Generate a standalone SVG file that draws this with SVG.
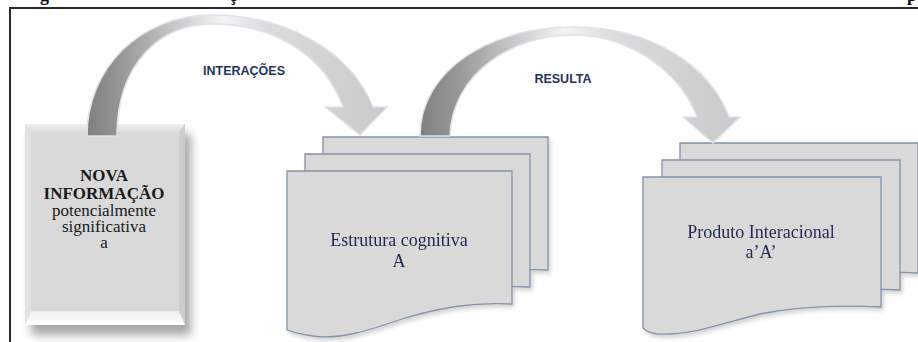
<svg xmlns="http://www.w3.org/2000/svg" width="918" height="342" viewBox="0 0 918 342">
  <style>
    .frame { fill: none; stroke: #2a2a2a; stroke-width: 2; }
    .title { font-family: "Liberation Serif", "Times New Roman", serif; font-weight: bold; font-size: 18px; fill: #111; }
    .doc { fill: #d9d9d9; stroke: #8293ab; stroke-width: 1.3; }
    .doctext { font-family: "Liberation Serif", "Times New Roman", serif; font-size: 18px; fill: #1f2a4f; text-anchor: middle; }
    .novatext { font-family: "Liberation Serif", "Times New Roman", serif; font-size: 17px; fill: #1a1a1a; text-anchor: middle; }
    .bold { font-weight: bold; }
    .label { font-family: "Liberation Sans", Arial, sans-serif; font-weight: bold; font-size: 12.5px; fill: #1f3260; text-anchor: middle; }
    .arrow { stroke: #dde4ee; stroke-width: 1.5; stroke-linejoin: round; }
  </style>
  <defs>
    <filter id="boxShadow" x="-20%" y="-20%" width="150%" height="150%">
      <feGaussianBlur stdDeviation="5"/>
    </filter>
    <filter id="docShadow" x="-10%" y="-10%" width="130%" height="130%">
      <feGaussianBlur in="SourceAlpha" stdDeviation="2"/>
      <feOffset dx="2" dy="3" result="o"/>
      <feComponentTransfer><feFuncA type="linear" slope="0.18"/></feComponentTransfer>
      <feMerge><feMergeNode/><feMergeNode in="SourceGraphic"/></feMerge>
    </filter>
    <linearGradient id="arrowGrad" x1="0" y1="0" x2="1" y2="0">
      <stop offset="0" stop-color="#808080"/>
      <stop offset="0.12" stop-color="#989898"/>
      <stop offset="0.32" stop-color="#d0d0d0"/>
      <stop offset="0.45" stop-color="#f4f4f4"/>
      <stop offset="0.6" stop-color="#dcdcdc"/>
      <stop offset="1" stop-color="#c9c9c9"/>
    </linearGradient>
    <linearGradient id="bevelBottom" x1="0" y1="0" x2="0" y2="1">
      <stop offset="0" stop-color="#eeeeee"/>
      <stop offset="1" stop-color="#ffffff"/>
    </linearGradient>
    <linearGradient id="bevelTop" x1="0" y1="0" x2="0" y2="1">
      <stop offset="0" stop-color="#f0f0f0"/>
      <stop offset="1" stop-color="#dcdcdc"/>
    </linearGradient>
  </defs>

  <rect width="918" height="342" fill="#ffffff"/>

  <g id="title-fragments">
    <text class="title" x="40" y="1">g</text>
    <text class="title" x="229" y="1">ç</text>
    <text class="title" x="907" y="1">p</text>
  </g>

  <g id="frame">
    <path class="frame" d="M10,342 V8 H918"/>
  </g>

  <g id="node-nova">
    <rect x="31" y="134" width="160" height="201" fill="#8a8a8a" opacity="0.75" filter="url(#boxShadow)"/>
    <rect x="25" y="124" width="160" height="201" fill="#d9d9d9"/>
    <polygon points="25,124 185,124 179,132 31,132" fill="url(#bevelTop)"/>
    <polygon points="25,124 31,132 31,311 25,325" fill="#e3e3e3"/>
    <polygon points="185,124 185,325 179,311 179,132" fill="#cdcdcd"/>
    <polygon points="25,325 185,325 179,311 31,311" fill="url(#bevelBottom)"/>
    <text class="novatext bold" font-family="Liberation Serif, serif" x="104" y="181">NOVA</text>
    <text class="novatext bold" font-family="Liberation Serif, serif" x="104" y="199">INFORMAÇÃO</text>
    <text class="novatext" font-family="Liberation Serif, serif" x="104" y="216">potencialmente</text>
    <text class="novatext" font-family="Liberation Serif, serif" x="104" y="232">significativa</text>
    <text class="novatext" font-family="Liberation Serif, serif" x="104" y="248">a</text>
  </g>

  <g id="node-estrutura" filter="url(#docShadow)">
    <path class="doc" transform="translate(36,-34)" d="M287,171 H512 V304 C470,302 440,308 405,318 C370,330 340,340 313,336 C300,334 292,332 287,330 Z"/>
    <path class="doc" transform="translate(18,-17)" d="M287,171 H512 V304 C470,302 440,308 405,318 C370,330 340,340 313,336 C300,334 292,332 287,330 Z"/>
    <path class="doc" d="M287,171 H512 V304 C470,302 440,308 405,318 C370,330 340,340 313,336 C300,334 292,332 287,330 Z"/>
    <text class="doctext" x="399" y="246">Estrutura cognitiva</text>
    <text class="doctext" x="399" y="267">A</text>
  </g>

  <g id="node-produto" filter="url(#docShadow)">
    <path class="doc" transform="translate(37,-34)" d="M643,177 H881 V307 C840,305 800,306 760,314 C720,324 690,336 657,334 C650,333 646,331 643,328 Z"/>
    <path class="doc" transform="translate(19,-17)" d="M643,177 H881 V307 C840,305 800,306 760,314 C720,324 690,336 657,334 C650,333 646,331 643,328 Z"/>
    <path class="doc" d="M643,177 H881 V307 C840,305 800,306 760,314 C720,324 690,336 657,334 C650,333 646,331 643,328 Z"/>
    <text class="doctext" x="761" y="238">Produto Interacional</text>
    <text class="doctext" x="761" y="258">a’A’</text>
  </g>

  <g id="connectors">
    <path id="arrow-interacoes" class="arrow" fill="url(#arrowGrad)" d="M87,136 C87,68 140,15 212,15 C285,15 350,50 373,107 L387,107 L360,135 L325,107 L343,107 C325,58 278,24 212,24 C160,24 117,64 117,136 Z"/>
    <path id="arrow-resulta" class="arrow" fill="url(#arrowGrad)" d="M420,136 C420,70 490,27 573,27 C650,27 710,65 729,117 L740,117 L713,143 L683,117 L697,117 C680,72 630,35 573,35 C510,35 452,75 450,136 Z"/>
    <text class="label" x="244" y="75">INTERAÇÕES</text>
    <text class="label" x="563" y="83">RESULTA</text>
  </g>
</svg>
